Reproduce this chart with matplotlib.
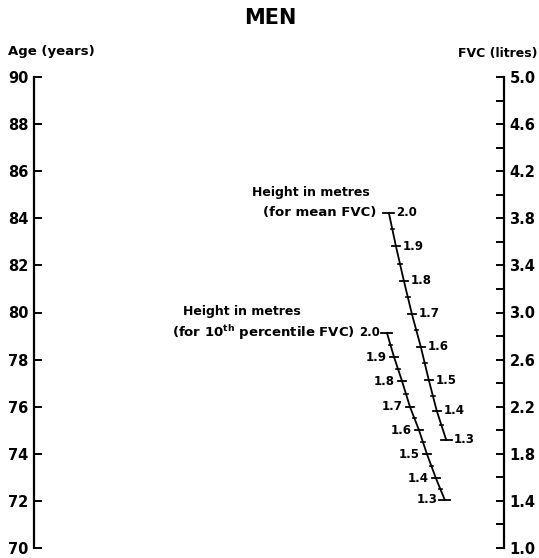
"""
Nomogram: FVC from age and height (men).
"""

import matplotlib
matplotlib.use("Agg")
import matplotlib.pyplot as plt
from matplotlib.ticker import FormatStrFormatter

plt.rcParams["font.family"] = ["DejaVu Sans"]
plt.rcParams["font.weight"] = "bold"
plt.rcParams["mathtext.fontset"] = "dejavusans"

W, H = 539, 558

# outer scales
age_range = (70, 90)
age_ticks = list(range(70, 91, 2))
fvc_range = (1.0, 5.0)
fvc_ticks = [1.0, 1.4, 1.8, 2.2, 2.6, 3.0, 3.4, 3.8, 4.2, 4.6, 5.0]
fvc_minor = [1.2, 1.6, 2.0, 2.4, 2.8, 3.2, 3.6, 4.0, 4.4, 4.8]

# height scales: heights and where each mark sits
# x as fraction between the two outer axes, y in age-axis units
heights = [2.0, 1.9, 1.8, 1.7, 1.6, 1.5, 1.4, 1.3]
mean_x = [0.755, 0.770, 0.787, 0.804, 0.823, 0.840, 0.857, 0.877]
mean_y = [84.23, 82.82, 81.34, 79.94, 78.54, 77.13, 75.82, 74.59]
p10_x = [0.751, 0.766, 0.783, 0.800, 0.819, 0.836, 0.855, 0.874]
p10_y = [79.13, 78.11, 77.09, 75.99, 75.01, 73.99, 72.97, 72.04]

AX_W = 470  # pixels between outer axes

fig = plt.figure(figsize=(W / 100, H / 100), dpi=100)
ax = fig.add_axes([34 / W, 10 / H, AX_W / W, 471 / H])
ax.set_xlim(0, 1)
ax.set_ylim(*age_range)
for s in ("top", "bottom", "right"):
    ax.spines[s].set_visible(False)
ax.spines["left"].set_linewidth(1.6)
ax.set_xticks([])
ax.set_yticks(age_ticks)
ax.tick_params(axis="y", direction="in", length=6, width=1.4, pad=4,
               labelsize=10.5)

ax2 = ax.twinx()
ax2.set_ylim(*fvc_range)
for s in ("top", "bottom", "left"):
    ax2.spines[s].set_visible(False)
ax2.spines["right"].set_linewidth(1.6)
ax2.set_yticks(fvc_ticks)
ax2.set_yticks(fvc_minor, minor=True)
ax2.yaxis.set_major_formatter(FormatStrFormatter("%.1f"))
ax2.tick_params(axis="y", which="both", direction="in", length=6, width=1.4,
                pad=4, labelsize=10.5)

for lab in ax.get_yticklabels() + ax2.get_yticklabels():
    lab.set_fontweight("bold")


def px(n):
    return n / AX_W


def draw_scale(xs, ys, label_side):
    ax.plot(xs, ys, color="black", lw=1.3, clip_on=False)
    # end caps
    for i in (0, len(xs) - 1):
        ax.plot([xs[i] - px(5.5), xs[i] + px(5.5)], [ys[i], ys[i]],
                color="black", lw=1.3, clip_on=False)
    # major ticks
    for i in range(1, len(xs) - 1):
        ax.plot([xs[i] - px(4), xs[i] + px(4)], [ys[i], ys[i]],
                color="black", lw=1.3)
    # minor ticks halfway
    for i in range(len(xs) - 1):
        mx = (xs[i] + xs[i + 1]) / 2
        my = (ys[i] + ys[i + 1]) / 2
        ax.plot([mx - px(1.8), mx + px(1.8)], [my, my], color="black", lw=1.2)
    for h, x, y in zip(heights, xs, ys):
        if label_side == "right":
            off, ha = 7, "left"
        else:
            off, ha = -7, "right"
        ax.annotate(f"{h:.1f}", (x, y), xytext=(off * 0.72, 0),
                    textcoords="offset points", ha=ha, va="center",
                    fontsize=8.5, fontweight="bold")


draw_scale(mean_x, mean_y, "right")
draw_scale(p10_x, p10_y, "left")

# captions next to the top of each height scale
ax.annotate("Height in metres", (mean_x[0], mean_y[0]),
            xytext=(-137 * 0.72, 20 * 0.72), textcoords="offset points",
            ha="left", va="center", fontsize=9, fontweight="bold")
ax.annotate("(for mean FVC)", (mean_x[0], mean_y[0]),
            xytext=(-12 * 0.72, 0), textcoords="offset points",
            ha="right", va="center", fontsize=9.5, fontweight="bold")
ax.annotate("Height in metres", (p10_x[0], p10_y[0]),
            xytext=(-204 * 0.72, 21 * 0.72), textcoords="offset points",
            ha="left", va="center", fontsize=9, fontweight="bold")
ax.annotate(r"(for 10$^{\mathbf{th}}$ percentile FVC)", (p10_x[0], p10_y[0]),
            xytext=(-32 * 0.72, 0), textcoords="offset points",
            ha="right", va="center", fontsize=9.5, fontweight="bold")

fig.text(270 / W, 1 - 18 / H, "MEN", ha="center", va="center",
         fontsize=15, fontweight="bold")
fig.text(8 / W, 1 - 51 / H, "Age (years)", ha="left", va="center",
         fontsize=9.5, fontweight="bold")
fig.text(537 / W, 1 - 54 / H, "FVC (litres)", ha="right", va="center",
         fontsize=9, fontweight="bold")

fig.savefig("out.png", dpi=100)
